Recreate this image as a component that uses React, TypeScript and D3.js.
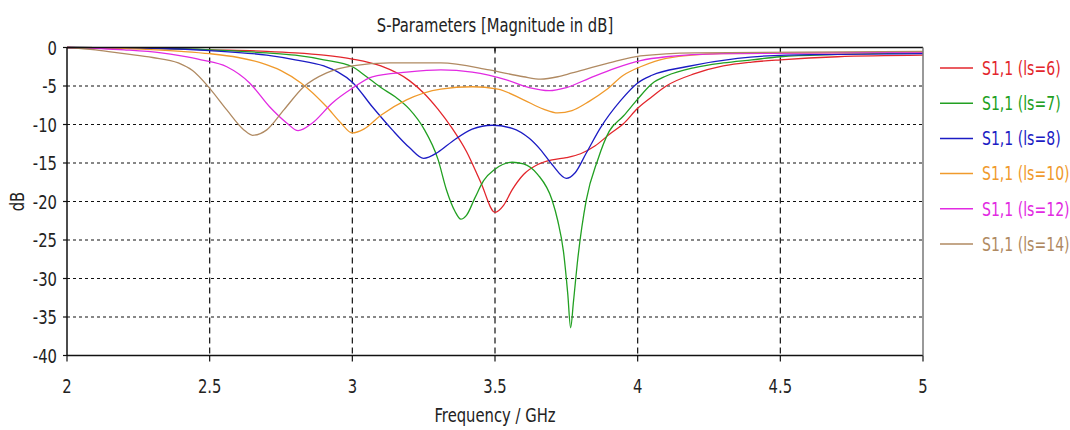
import React from "react";
import * as d3 from "d3";

// S11 curves, [GHz, dB]
const ls6: [number, number][] = [
  [2, 0], [2.3, -0.1], [2.5, -0.3], [2.7, -0.5], [2.8, -0.7], [2.9, -1.0], [3.0, -1.5], [3.1, -2.4],
  [3.2, -4.3], [3.25, -5.9], [3.3, -8.0], [3.35, -10.5], [3.4, -13.5], [3.45, -17.5], [3.5, -21.4],
  [3.53, -20.5], [3.56, -18.5], [3.6, -16.5], [3.65, -15.2], [3.7, -14.6], [3.75, -14.3], [3.8, -13.8],
  [3.85, -12.8], [3.9, -11.3], [3.95, -9.9], [4.0, -7.9], [4.05, -6.4], [4.1, -5.0], [4.2, -3.4],
  [4.3, -2.4], [4.4, -1.9], [4.5, -1.6], [4.7, -1.2], [5.0, -1.0],
];
const ls7: [number, number][] = [
  [2, 0], [2.3, -0.1], [2.5, -0.3], [2.7, -0.7], [2.8, -1.0], [2.9, -1.6], [3.0, -2.5], [3.05, -3.8],
  [3.1, -5.2], [3.15, -6.4], [3.2, -8.0], [3.25, -10.5], [3.3, -14.5], [3.33, -18.5], [3.36, -21.3],
  [3.38, -22.3], [3.4, -21.8], [3.43, -19.5], [3.46, -17.3], [3.5, -15.8], [3.56, -14.9], [3.6, -15.1],
  [3.65, -16.5], [3.7, -19.8], [3.72, -22.5], [3.74, -26.5], [3.755, -32], [3.765, -36.4], [3.775, -33],
  [3.79, -27.5], [3.82, -19.8], [3.86, -14.6], [3.9, -10.9], [3.95, -8.9], [4.0, -6.7], [4.05, -4.7],
  [4.1, -3.7], [4.2, -2.6], [4.3, -2.0], [4.4, -1.6], [4.5, -1.2], [4.7, -0.9], [5.0, -0.7],
];
const ls8: [number, number][] = [
  [2, 0], [2.3, -0.1], [2.5, -0.4], [2.7, -1.0], [2.8, -1.6], [2.9, -2.4], [2.95, -3.2], [3.0, -4.5],
  [3.07, -7.7], [3.14, -10.7], [3.2, -13.0], [3.25, -14.4], [3.3, -13.6], [3.35, -12.2], [3.42, -10.6],
  [3.49, -10.1], [3.56, -10.5], [3.62, -11.8], [3.66, -13.3], [3.7, -15.2], [3.75, -17.0], [3.78, -16.3],
  [3.82, -13.7], [3.87, -10.4], [3.94, -6.9], [4.0, -4.6], [4.05, -3.6], [4.17, -2.5], [4.35, -1.4],
  [4.52, -1.0], [5.0, -0.8],
];
const ls10: [number, number][] = [
  [2, 0], [2.2, -0.15], [2.4, -0.5], [2.5, -0.8], [2.6, -1.3], [2.68, -2.0], [2.75, -3.0], [2.82, -4.6],
  [2.91, -7.7], [2.96, -9.8], [3.0, -11.1], [3.04, -10.6], [3.1, -8.8], [3.19, -6.8], [3.31, -5.4],
  [3.42, -5.1], [3.51, -5.4], [3.6, -6.8], [3.67, -8.0], [3.72, -8.5], [3.77, -8.2], [3.83, -7.0],
  [3.89, -5.5], [3.95, -3.6], [4.01, -2.5], [4.1, -1.4], [4.29, -0.8], [5.0, -0.6],
];
const ls12: [number, number][] = [
  [2, 0], [2.2, -0.3], [2.33, -0.7], [2.4, -1.1], [2.47, -1.6], [2.56, -2.5], [2.64, -4.6], [2.71, -7.7],
  [2.77, -9.8], [2.81, -10.8], [2.86, -9.8], [2.93, -7.2], [3.0, -5.3], [3.07, -3.8], [3.19, -3.2],
  [3.31, -2.9], [3.42, -3.2], [3.54, -4.2], [3.62, -5.2], [3.69, -5.6], [3.75, -5.2], [3.83, -4.0],
  [3.92, -2.7], [4.01, -1.7], [4.1, -1.2], [4.3, -0.8], [5.0, -0.6],
];
const ls14: [number, number][] = [
  [2, 0], [2.1, -0.3], [2.2, -0.8], [2.3, -1.3], [2.39, -2.0], [2.44, -3.0], [2.5, -5.3], [2.56, -8.1],
  [2.62, -10.7], [2.65, -11.4], [2.7, -10.7], [2.76, -8.1], [2.83, -5.1], [2.91, -3.3], [3.0, -2.4],
  [3.13, -2.0], [3.31, -2.0], [3.48, -2.9], [3.6, -3.8], [3.66, -4.1], [3.72, -3.8], [3.77, -3.3],
  [3.9, -2.0], [4.01, -1.1], [4.2, -0.7], [5.0, -0.5],
];

const seriesNames = ["S1,1 (ls=6)", "S1,1 (ls=7)", "S1,1 (ls=8)", "S1,1 (ls=10)", "S1,1 (ls=12)", "S1,1 (ls=14)"];
const seriesData = [ls6, ls7, ls8, ls10, ls12, ls14];
const colors = ["#e3262c", "#22a022", "#1c1cc4", "#f09a2c", "#e22ae2", "#b08a62"];

const xTicks = [2, 2.5, 3, 3.5, 4, 4.5, 5];
const yTicks = [0, -5, -10, -15, -20, -25, -30, -35, -40];

const FONT = "'DejaVu Sans', sans-serif";
const SX = 0.74; // squeeze text to look like the narrow font of the original

// condensed text helper
function T(props: { x: number; y: number; anchor?: string; size?: number; fill?: string; rotate?: number; dy?: string; children: React.ReactNode }) {
  const { x, y, anchor = "start", size = 20, fill = "#222", rotate = 0, dy, children } = props;
  return (
    <text transform={`translate(${x},${y}) rotate(${rotate}) scale(${SX},1)`} textAnchor={anchor}
      fontSize={size} fill={fill} dy={dy}>{children}</text>
  );
}

export default function App() {
  const W = 1070, H = 430;
  const x = d3.scaleLinear().domain([2, 5]).range([67, 923]);
  const y = d3.scaleLinear().domain([-40, 0]).range([355.5, 47.5]);
  const line = d3.line<[number, number]>()
    .x(d => x(d[0]))
    .y(d => y(d[1]))
    .curve(d3.curveMonotoneX);

  return (
    <svg width={W} height={H} style={{ position: "absolute", left: 0, top: 0, background: "#fff" }}
      fontFamily={FONT}>
      <T x={495} y={32} anchor="middle">S-Parameters [Magnitude in dB]</T>

      {/* grid */}
      {yTicks.filter(t => t !== 0 && t !== -40).map(t => (
        <line key={"gy" + t} x1={x(2)} x2={x(5)} y1={y(t)} y2={y(t)}
          stroke="#111" strokeWidth={1.2} strokeDasharray="3,3" />
      ))}
      {xTicks.filter(t => t !== 2 && t !== 5).map(t => (
        <line key={"gx" + t} x1={x(t)} x2={x(t)} y1={y(0)} y2={y(-40)}
          stroke="#111" strokeWidth={1.2} strokeDasharray="6,4" />
      ))}

      {/* curves */}
      <defs>
        <clipPath id="clip"><rect x={x(2)} y={y(0) - 2} width={x(5) - x(2)} height={y(-40) - y(0) + 2} /></clipPath>
      </defs>
      <g clipPath="url(#clip)">
        {seriesData.map((d, i) => (
          <path key={i} d={line(d) || ""} fill="none" stroke={colors[i]} strokeWidth={1.3} />
        ))}
      </g>

      {/* frame */}
      <line x1={x(2)} x2={x(5)} y1={y(0)} y2={y(0)} stroke="#111" strokeWidth={1.5} />
      <line x1={x(2)} x2={x(5)} y1={y(-40)} y2={y(-40)} stroke="#111" strokeWidth={1.5} />
      <line x1={x(2)} x2={x(2)} y1={y(0)} y2={y(-40)} stroke="#111" strokeWidth={1.5} />
      <line x1={x(5)} x2={x(5)} y1={y(0)} y2={y(-40)} stroke="#777" strokeWidth={1.5} />

      {/* y ticks */}
      {yTicks.map(t => (
        <g key={"yt" + t}>
          <line x1={x(2) - 4} x2={x(2)} y1={y(t)} y2={y(t)} stroke="#111" strokeWidth={1.2} />
          <T x={57} y={y(t)} dy="0.36em" anchor="end">{t}</T>
        </g>
      ))}
      {/* x ticks */}
      {xTicks.map(t => (
        <g key={"xt" + t}>
          <line x1={x(t)} x2={x(t)} y1={y(-40)} y2={y(-40) + 6} stroke="#111" strokeWidth={1.2} />
          <T x={x(t)} y={393} anchor="middle">{t}</T>
        </g>
      ))}
      <line x1={x(3.5)} x2={x(3.5)} y1={y(0)} y2={y(0) + 4} stroke="#111" strokeWidth={1.2} />

      {/* axis labels */}
      <T x={495} y={422} anchor="middle">Frequency / GHz</T>
      <T x={24} y={y(-20)} rotate={-90} anchor="middle">dB</T>

      {/* legend */}
      {seriesNames.map((n, i) => {
        const ly = 68 + i * 35.2;
        return (
          <g key={n}>
            <line x1={940} x2={973} y1={ly} y2={ly} stroke={colors[i]} strokeWidth={1.5} />
            <T x={982} y={ly} dy="0.36em" size={19} fill={colors[i]}>{n}</T>
          </g>
        );
      })}
    </svg>
  );
}
